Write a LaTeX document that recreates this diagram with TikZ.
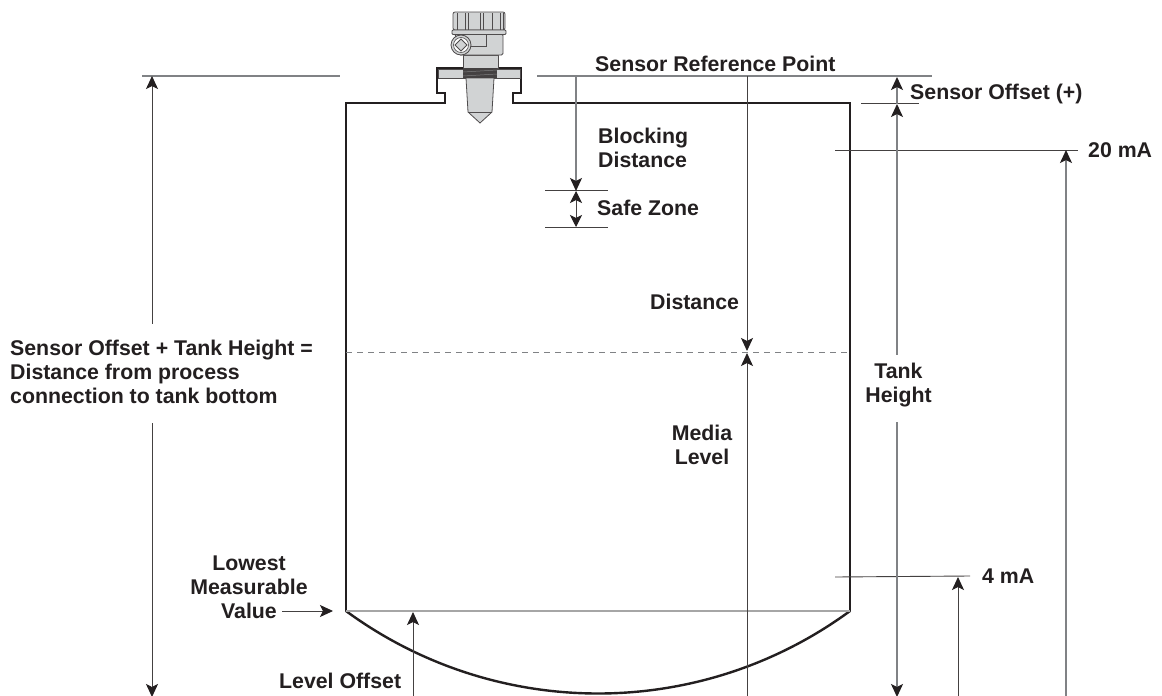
\documentclass[tikz,border=0pt]{standalone}
\usepackage{fontspec}
\setmainfont{Liberation Sans}
\usetikzlibrary{arrows.meta}
\usetikzlibrary{positioning}
\definecolor{inkdark}{HTML}{231F20}
\definecolor{linegray}{HTML}{808285}
\definecolor{bodygray}{HTML}{D1D3D4}
\begin{document}
\begin{tikzpicture}[x=1pt,y=-1pt,
                lbl/.style={inner sep=0pt,text=inkdark,align=left,
                    font=\fontsize{21.3}{24}\selectfont\bfseries},
                tip/.style={-{Stealth[length=13pt,width=12pt,inset=3pt,color=inkdark]}},
                bothtips/.style={{Stealth[length=12pt,width=12pt,inset=3pt,color=inkdark]}-{Stealth[length=12pt,width=12pt,inset=3pt,color=inkdark]}},
                dimgray/.style={draw=linegray,line width=1.3pt},
                dimdark/.style={draw=inkdark!85,line width=0.9pt},
                tankwall/.style={draw=inkdark,line width=2.4pt},
                sensorpart/.style={draw=inkdark!80,fill=bodygray,line width=0.8pt}]
    \useasboundingbox (0,0) rectangle (1162,696);
    \fill[white] (0,0) rectangle (1162,696);

    \node[lbl,anchor=west] (refpoint) at (595,64) {Sensor Reference Point};
    \node[lbl,anchor=west] (offset) at (910,94) {Sensor Offset (+)};
    \node[lbl,anchor=west] (blocking) at (598,148) {Blocking\\Distance};
    \node[lbl,anchor=west] (safezone) at (597,208) {Safe Zone};
    \node[lbl,anchor=west] (distance) at (650,302) {Distance};
    \node[lbl,anchor=west] (sum) at (10,372) {Sensor Offset + Tank Height =\\Distance from process\\connection to tank bottom};
    \node[lbl,align=center] (tankh) at (898.5,385) {Tank\\Height};
    \node[lbl,align=center] (media) at (702,445) {Media\\Level};
    \node[lbl,anchor=west] (ma20) at (1088,150) {20 mA};
    \node[lbl,anchor=west] (ma4) at (982,576) {4 mA};
    \node[lbl,align=center] (lowest) at (249,587) {Lowest\\Measurable\\Value};
    \node[lbl,anchor=west] (leveloff) at (279,681) {Level Offset};

    \coordinate (tl) at (346,611);
    \coordinate (tr) at (850,611);
    \coordinate (sumtop) at (152,76);
    \coordinate (sumbot) at (152,697);
    \coordinate (block) at (576,76);
    \coordinate (safea) at (576,191);
    \coordinate (safeb) at (576,227);
    \coordinate (dist) at (747,76);
    \coordinate (surf) at (747,351);
    \coordinate (surfb) at (747,353);
    \coordinate (offa) at (897,77);
    \coordinate (offb) at (897,104);
    \coordinate (tankbot) at (897,697);
    \coordinate (lowarrow) at (282,611);

    \draw[tankwall,line cap=round,line join=miter] (tl) -- (346,103) -- (445,103) -- (445,93) -- (437,93) -- (437,68)
        -- (521,68) -- (521,93) -- (513,93) -- (513,103) -- (850,103) -- (tr);
    \draw[tankwall] (tl) .. controls (496,721) and (700,721) .. (tr);
    \draw[draw=black!35,line width=1.5pt] (tl) -- (tr);
    \draw[draw=linegray,line width=0.8pt,dash pattern=on 6pt off 5pt] (346,352) -- (850,352);

    \draw[sensorpart] (438,69) rectangle (520,78);
    \draw[sensorpart] (463,55) rectangle (498,68);
    \draw[sensorpart] (466,78) -- (468,112) -- (480,123) -- (492,112) -- (494,78) -- cycle;
    \draw[draw=inkdark!80,line width=0.8pt] (468,112) -- (492,112);
    \fill[inkdark!85] (463,68) rectangle (497,78);
    \foreach \yy in {71,75}
        \draw[bodygray!60!black,line width=0.5pt] (463,\yy+1) -- (497,\yy-1);
    \draw[sensorpart,rounded corners=1.5pt] (455,34) -- (503,34) -- (503,55) -- (459,55) -- cycle;
    \draw[draw=inkdark!80,line width=0.8pt] (486,35) -- (486,46) -- (469,46);
    \draw[sensorpart,rounded corners=2pt] (453,12) rectangle (505,30);
    \foreach \xx in {457,465,468,480,483,492,500,503}
        \draw[draw=inkdark!80,line width=0.7pt] (\xx,13) -- (\xx,30);
    \draw[sensorpart,rounded corners=1pt] (452,30) rectangle (506,34.5);
    \draw[sensorpart] (461,45) circle (10);
    \draw[draw=inkdark!80,fill=white,line width=0.6pt] (461,45) circle (7.5);
    \draw[draw=inkdark!80,fill=bodygray,line width=0.8pt] (461,39) -- (467,45) -- (461,51) -- (455,45) -- cycle;

    \draw[dimgray] (142,76) -- (340,76);
    \draw[dimgray] (537,76) -- (932,76);
    \draw[dimdark] (861,103) -- (919,103);
    \draw[dimdark] (545,190) -- (608,190);
    \draw[dimdark] (545,227) -- (608,227);
    \draw[dimdark] (835,150) -- ([xshift=-10pt]ma20.west);
    \draw[dimdark] (835,577) -- ([xshift=-12pt]ma4.west);

    \draw[tip,dimdark] (sumtop |- sum.north) ++(0,-16) -- (sumtop);
    \draw[tip,dimdark] (sumbot |- sum.south) ++(0,19) -- (sumbot);
    \draw[tip,dimgray] (block) -- (safea);
    \draw[bothtips,dimdark] (safea) -- (safeb);
    \draw[tip,dimdark] (dist) -- (surf);
    \draw[tip,dimdark] (747,696) -- (surfb);
    \draw[tip,dimgray] (offb) -- (offa);
    \draw[tip,dimgray] (offb |- tankh.north) ++(0,-8) -- (offb);
    \draw[tip,dimgray] (tankbot |- tankh.south) ++(0,15) -- (tankbot);
    \draw[tip,dimdark] (958,696) -- (958,577);
    \draw[tip,dimgray] (1066,696) -- (1066,150);
    \draw[tip,dimdark] (413,696) -- (413,612);
    \draw[tip,dimdark] (lowarrow) -- (333,611);
\end{tikzpicture}
\end{document}
